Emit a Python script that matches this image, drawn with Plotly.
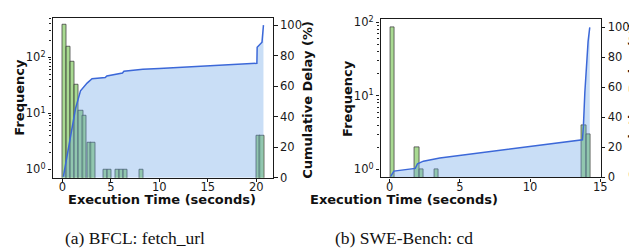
import plotly.graph_objects as go

# ---------------- data ----------------
# (a) BFCL: fetch_url
a_bin_centers = [0.26, 0.67, 1.09, 1.50, 1.92, 2.33, 2.75, 3.16, 4.41, 4.82,
                 5.65, 6.07, 6.48, 8.14, 20.19, 20.60]
a_counts = [380, 158, 82, 33, 11, 9, 3, 3, 1, 1, 1, 1, 1, 1, 4, 4]
a_cum_x = [0.1, 0.85, 1.36, 1.87, 2.55, 3.06, 4.42, 4.59, 5.6, 6.2, 6.35, 8.3,
           10.0, 20.07, 20.1, 20.6, 20.75]
a_cum_pct = [0.6, 26.7, 45.4, 56.9, 62.0, 64.8, 65.6, 66.7, 68.0, 68.6, 69.7,
             71.0, 71.5, 75.0, 85.4, 88.8, 100.0]

# (b) SWE-Bench: cd
b_bin_centers = [0.19, 1.93, 2.26, 3.33, 13.83, 14.16]
b_counts = [86, 2, 1, 1, 4, 3]
b_cum_x = [0.07, 0.3, 1.82, 1.98, 2.4, 3.57, 13.73, 13.8, 13.9, 13.97, 14.04,
           14.13, 14.25]
b_cum_pct = [0.6, 4.2, 6.0, 9.1, 10.8, 12.9, 25.0, 34.5, 56.7, 67.2, 79.9,
             90.5, 100.0]

x_ticks_a = [0, 5, 10, 15, 20]
x_ticks_b = [0, 5, 10, 15]
log_ticks = [1, 10, 100]
log_ticktext = ["10<sup>0</sup>", "10<sup>1</sup>", "10<sup>2</sup>"]
pct_ticks = [0, 20, 40, 60, 80, 100]
captions = ["(a) BFCL: fetch_url", "(b) SWE-Bench: cd"]

# ---------------- styles ----------------
W, H = 637, 249
BAR_W_A = 0.415
BAR_W_B = 0.327
BAR_FILL = "rgba(140,205,110,0.75)"
BAR_EDGE = "rgba(60,60,60,0.75)"
AREA_FILL = "rgba(100,160,230,0.35)"
LINE_COL = "#3c68d8"
TICK_FONT = dict(family="DejaVu Sans", size=11.5, color="#1a1a1a")
TITLE_FONT = dict(family="DejaVu Sans", size=13, color="#111111")

fig = go.Figure()

fig.add_trace(go.Bar(x=a_bin_centers, y=a_counts, width=BAR_W_A,
                     marker=dict(color=BAR_FILL, line=dict(color=BAR_EDGE, width=1)),
                     xaxis="x", yaxis="y", showlegend=False))
fig.add_trace(go.Scatter(x=a_cum_x, y=a_cum_pct, mode="lines", fill="tozeroy",
                         fillcolor=AREA_FILL, line=dict(color=LINE_COL, width=1.5),
                         xaxis="x", yaxis="y2", showlegend=False))
fig.add_trace(go.Bar(x=b_bin_centers, y=b_counts, width=BAR_W_B,
                     marker=dict(color=BAR_FILL, line=dict(color=BAR_EDGE, width=1)),
                     xaxis="x2", yaxis="y3", showlegend=False))
fig.add_trace(go.Scatter(x=b_cum_x, y=b_cum_pct, mode="lines", fill="tozeroy",
                         fillcolor=AREA_FILL, line=dict(color=LINE_COL, width=1.5),
                         xaxis="x2", yaxis="y4", showlegend=False))

minor_log = dict(ticks="outside", ticklen=2, tickwidth=0.8, tickcolor="#222",
                 tickvals=[2, 3, 4, 5, 6, 7, 8, 9, 20, 30, 40, 50, 60, 70, 80, 90,
                           200, 300, 400, 500])

common_x = dict(showline=True, linecolor="#1a1a1a", linewidth=1.3, mirror=True,
                ticks="outside", ticklen=3.5, tickwidth=1, tickcolor="#1a1a1a",
                showgrid=False, zeroline=False, tickfont=TICK_FONT,
                ticklabelstandoff=-5)
common_y = dict(showline=True, linecolor="#1a1a1a", linewidth=1.3,
                ticks="outside", ticklen=3.5, tickwidth=1, tickcolor="#1a1a1a",
                showgrid=False, zeroline=False, tickfont=TICK_FONT)

dom_ax = [45 / W, 268 / W]
dom_ay = [1 - 173 / H, 1 - 5 / H]
dom_bx = [376.7 / W, 599.3 / W]
dom_by = [1 - 172.7 / H, 1 - 6.7 / H]

fig.update_layout(
    width=W, height=H, margin=dict(l=0, r=0, t=0, b=0),
    paper_bgcolor="white", plot_bgcolor="white", barmode="overlay", bargap=0,
    xaxis=dict(domain=dom_ax, range=[-1.02, 21.74], tickvals=x_ticks_a,
               anchor="y", **common_x),
    yaxis=dict(domain=dom_ay, type="log", range=[-0.149, 2.709],
               tickvals=log_ticks, ticktext=log_ticktext, anchor="x",
               minor=minor_log, **common_y),
    yaxis2=dict(overlaying="y", side="right", anchor="x", range=[0, 104.8],
                tickvals=pct_ticks, **common_y),
    xaxis2=dict(domain=dom_bx, range=[-0.65, 15.03], tickvals=x_ticks_b,
                anchor="y3", **common_x),
    yaxis3=dict(domain=dom_by, type="log", range=[-0.109, 2.04],
                tickvals=log_ticks, ticktext=log_ticktext, anchor="x2",
                minor=minor_log, **common_y),
    yaxis4=dict(overlaying="y3", side="right", anchor="x2", range=[0, 105.3],
                tickvals=pct_ticks, **common_y),
)

def ann(text, x, y, angle=0, font=TITLE_FONT):
    fig.add_annotation(text=text, x=x / W, y=1 - y / H, xref="paper", yref="paper",
                       showarrow=False, textangle=angle, font=font, borderpad=0,
                       xanchor="center", yanchor="middle")

ann("<b>Execution Time (seconds)</b>", 155.5, 195.5)
ann("<b>Execution Time (seconds)</b>", 400, 195.5)
ann("<b>Frequency</b>", 12, 88, -90)
ann("<b>Frequency</b>", 343, 90, -90)
ann("<b>Cumulative Delay (%)</b>", 302.5, 91, -90)
ann("<b>Cumulative Delay (%)</b>", 632.5, 93, -90)

cap_font = dict(family="Liberation Serif", size=17.5, color="#111111")
ann(captions[0], 128, 236, 0, cap_font)
ann(captions[1], 400, 236, 0, cap_font)

fig.write_html("out.html")
